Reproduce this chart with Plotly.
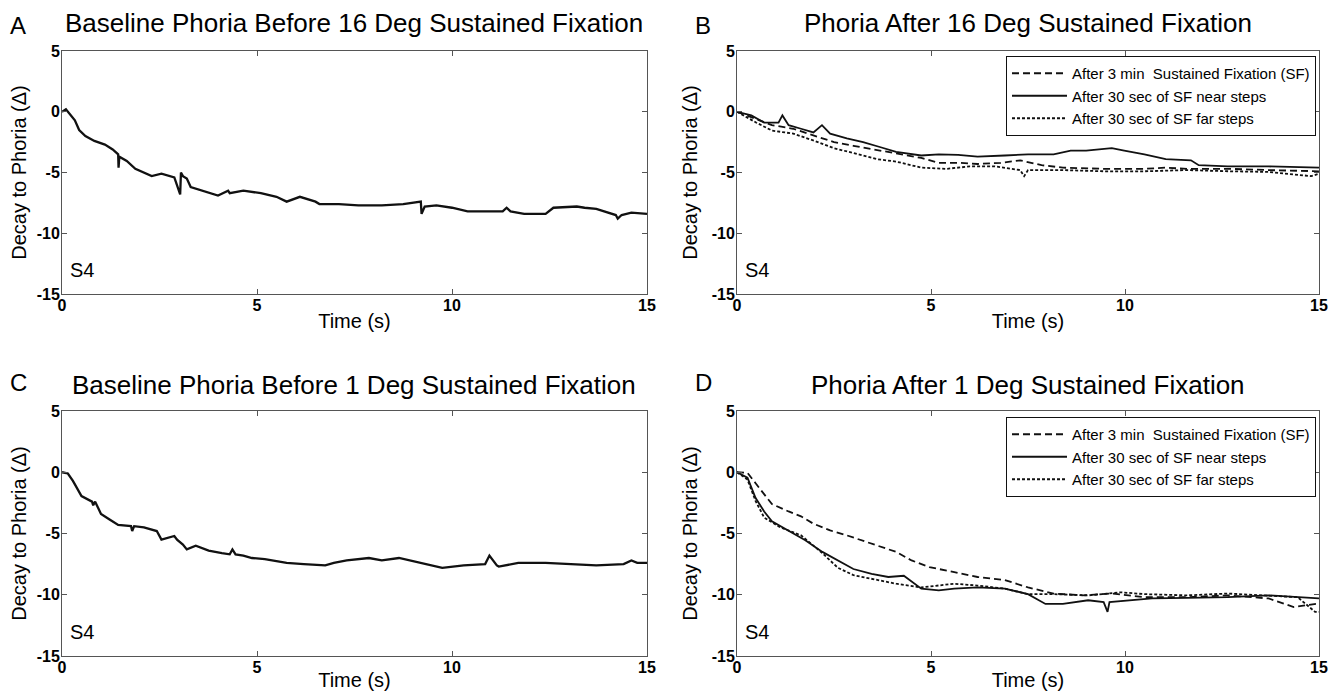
import plotly.graph_objects as go

# ---------------- data ----------------
A_t = [0, 0.1, 0.33, 0.44, 0.6, 0.83, 1.1, 1.3, 1.44, 1.45, 1.47, 1.66, 1.88, 2.1, 2.3,
       2.55, 2.88, 3.03, 3.05, 3.1, 3.2, 3.3, 3.5, 3.65, 4.0, 4.26, 4.3, 4.65, 5.1, 5.5,
       5.76, 6.1, 6.5, 6.6, 7.1, 7.6, 8.2, 8.75, 9.2, 9.22, 9.3, 9.6, 10.0, 10.4, 11.3,
       11.4, 11.5, 11.85, 12.4, 12.6, 13.2, 13.4, 13.7, 14.2, 14.25, 14.35, 14.6, 15.0]
A_v = [0, 0.2, -0.7, -1.5, -2.0, -2.4, -2.7, -3.1, -3.5, -4.6, -3.7, -4.05, -4.7, -5.0, -5.3,
       -5.1, -5.4, -6.8, -5.0, -5.3, -5.5, -6.2, -6.4, -6.6, -6.9, -6.5, -6.7, -6.5, -6.7, -7.0,
       -7.4, -7.0, -7.4, -7.6, -7.6, -7.7, -7.7, -7.6, -7.4, -8.4, -7.8, -7.7, -7.9, -8.2, -8.2,
       -7.9, -8.2, -8.4, -8.4, -7.9, -7.8, -7.9, -8.0, -8.5, -8.8, -8.5, -8.3, -8.4]

C_t = [0, 0.15, 0.28, 0.39, 0.5, 0.77, 0.8, 0.85, 1.0, 1.22, 1.44, 1.77, 1.8, 1.85, 2.1,
       2.43, 2.55, 2.88, 2.95, 3.1, 3.2, 3.43, 3.76, 4.1, 4.3, 4.37, 4.45, 4.65, 4.87, 5.2,
       5.76, 6.2, 6.75, 6.97, 7.3, 7.87, 8.2, 8.64, 9.2, 9.75, 10.3, 10.85, 10.96, 11.15, 11.2,
       11.7, 12.4, 12.95, 13.7, 14.4, 14.6, 14.75, 15.0]
C_v = [0, -0.1, -0.7, -1.3, -1.95, -2.4, -2.7, -2.4, -3.4, -3.85, -4.3, -4.4, -4.8, -4.4, -4.5,
       -4.8, -5.5, -5.2, -5.5, -5.9, -6.3, -6.0, -6.4, -6.6, -6.7, -6.3, -6.7, -6.8, -7.0, -7.1,
       -7.4, -7.5, -7.6, -7.4, -7.2, -7.0, -7.2, -7.0, -7.4, -7.8, -7.6, -7.5, -6.8, -7.6, -7.7,
       -7.4, -7.4, -7.5, -7.6, -7.5, -7.2, -7.4, -7.4]

B_3min_t = [0, 0.5, 0.9, 1.45, 2.0, 2.5, 3.0, 3.7, 4.3, 4.75, 5.2, 5.7, 6.2, 6.8, 7.3,
            7.85, 8.4, 9.45, 10.5, 11.05, 11.6, 12.7, 13.7, 15.0]
B_3min_v = [0, -0.6, -1.1, -1.4, -2.0, -2.5, -2.8, -3.2, -3.5, -3.8, -4.2, -4.2, -4.3, -4.2, -4.0,
            -4.4, -4.6, -4.7, -4.7, -4.6, -4.7, -4.7, -4.8, -4.9]
B_near_t = [0, 0.37, 0.7, 1.07, 1.17, 1.33, 1.65, 1.97, 2.19, 2.4, 2.83, 3.25, 3.68, 4.1, 4.75,
            5.2, 5.7, 6.2, 6.9, 7.5, 8.16, 8.6, 9.0, 9.66, 9.98, 10.5, 11.05, 11.7, 11.9, 12.65,
            13.7, 15.0]
B_near_v = [0, -0.3, -0.9, -0.9, -0.3, -1.1, -1.4, -1.7, -1.1, -1.8, -2.2, -2.5, -2.9, -3.3, -3.6,
            -3.5, -3.55, -3.7, -3.6, -3.5, -3.5, -3.2, -3.2, -3.0, -3.2, -3.5, -3.9, -4.0, -4.4, -4.5,
            -4.5, -4.6]
B_far_t = [0, 0.5, 0.9, 1.45, 2.0, 2.5, 3.0, 3.6, 4.1, 4.75, 5.4, 6.0, 6.65, 7.3, 7.4,
           7.5, 8.4, 9.45, 10.5, 11.6, 12.7, 13.7, 14.8, 15.0]
B_far_v = [0, -0.9, -1.55, -1.8, -2.4, -3.0, -3.4, -3.9, -4.1, -4.6, -4.7, -4.5, -4.5, -4.8, -5.3,
           -4.8, -4.8, -4.9, -4.9, -4.8, -4.9, -4.95, -5.3, -5.1]

D_3min_t = [0, 0.27, 0.48, 0.7, 0.9, 1.33, 1.65, 1.97, 2.4, 2.83, 3.25, 3.68, 4.1, 4.5, 4.96,
            5.6, 6.2, 6.9, 7.5, 8.16, 8.9, 9.66, 10.5, 11.6, 12.65, 13.7, 14.35, 15.0]
D_3min_v = [0, -0.05, -0.9, -1.8, -2.6, -3.2, -3.6, -4.2, -4.75, -5.15, -5.6, -6.1, -6.5, -7.2, -7.75,
            -8.15, -8.55, -8.8, -9.4, -9.9, -10.05, -9.9, -10.2, -10.2, -10.05, -10.3, -11.0, -10.7]
D_near_t = [0, 0.27, 0.48, 0.7, 0.9, 1.33, 1.76, 2.2, 2.6, 3.0, 3.47, 3.9, 4.3, 4.75, 5.2,
            5.6, 6.2, 6.9, 7.5, 7.95, 8.4, 9.05, 9.45, 9.55, 9.6, 10.1, 10.7, 11.6, 12.65, 13.7,
            14.45, 15.0]
D_near_v = [0, -0.45, -2.1, -3.2, -4.0, -4.75, -5.55, -6.5, -7.2, -7.9, -8.3, -8.55, -8.45, -9.5, -9.65,
            -9.5, -9.4, -9.5, -9.95, -10.75, -10.75, -10.45, -10.6, -11.4, -10.6, -10.45, -10.3, -10.25, -10.2, -10.05,
            -10.2, -10.3]
D_far_t = [0, 0.27, 0.48, 0.7, 1.12, 1.65, 2.2, 2.6, 3.0, 3.68, 4.1, 4.75, 5.6, 6.2, 6.9,
           7.5, 8.16, 9.05, 9.9, 10.5, 11.6, 12.65, 13.7, 14.45, 14.9, 15.0]
D_far_v = [0, -0.6, -2.35, -3.7, -4.5, -5.15, -6.6, -7.8, -8.4, -8.85, -9.1, -9.4, -9.1, -9.25, -9.5,
           -9.95, -9.95, -10.05, -9.8, -9.95, -10.05, -9.9, -10.05, -10.2, -11.4, -11.4]

series_names = ["After 3 min\u00a0\u00a0Sustained Fixation (SF)",
                "After 30 sec of SF near steps",
                "After 30 sec of SF far steps"]
panel_letters = ["A", "B", "C", "D"]
panel_titles = ["Baseline Phoria Before 16 Deg Sustained Fixation",
                "Phoria After 16 Deg Sustained Fixation",
                "Baseline Phoria Before 1 Deg Sustained Fixation",
                "Phoria After 1 Deg Sustained Fixation"]
x_ticks = [0, 5, 10, 15]
y_ticks = [-15, -10, -5, 0, 5]
x_label = "Time (s)"
y_label = "Decay to Phoria (\u0394)"
subject_label = "S4"

# ---------------- layout geometry (page pixels) ----------------
W, H = 1337, 699
OFF = 8                      # default body margin of the html page
FW, FH = W - 2 * OFF, H - 2 * OFF
FONT = "Liberation Sans, Arial, sans-serif"

def px(x):
    return (x - OFF) / FW

def py(y):
    return 1 - (y - OFF) / FH

def dom_x(a, b):
    return [px(a), px(b)]

def dom_y(top, bottom):
    return [py(bottom), py(top)]

xdom = {1: dom_x(62, 647), 2: dom_x(737, 1319), 3: dom_x(62, 647), 4: dom_x(737, 1319)}
ydom = {1: dom_y(51, 294), 2: dom_y(51, 294), 3: dom_y(411, 656), 4: dom_y(411, 656)}

fig = go.Figure()

BLACK = "#111111"
dash_styles = ["7px,4px", "solid", "3px,2px"]

def add(t, v, k, name=None, width=2.0, dash="solid", legend=None, show=False):
    fig.add_trace(go.Scatter(
        x=t, y=v, mode="lines", name=name,
        line=dict(color=BLACK, width=width, dash=dash),
        xaxis="x" if k == 1 else f"x{k}", yaxis="y" if k == 1 else f"y{k}",
        showlegend=show, legend=legend, hoverinfo="skip"))

add(A_t, A_v, 1, width=2.3)
add(C_t, C_v, 3, width=2.3)

for (t, v), nm, ds in zip([(B_3min_t, B_3min_v), (B_near_t, B_near_v), (B_far_t, B_far_v)],
                          series_names, dash_styles):
    add(t, v, 2, name=nm, width=1.8, dash=ds, legend="legend", show=True)
for (t, v), nm, ds in zip([(D_3min_t, D_3min_v), (D_near_t, D_near_v), (D_far_t, D_far_v)],
                          series_names, dash_styles):
    add(t, v, 4, name=nm, width=1.8, dash=ds, legend="legend2", show=True)

axis_common = dict(
    automargin=False,
    ticks="inside", ticklen=5, tickcolor="#555555",
    showline=True, linecolor="#555555", linewidth=1, mirror="ticks",
    showgrid=False, zeroline=False, fixedrange=True,
    tickfont=dict(family=FONT, size=16, color="black", weight="bold"),
)

layout = dict(
    template="none",
    width=FW, height=FH, margin=dict(l=0, r=0, t=0, b=0, autoexpand=False),
    paper_bgcolor="white", plot_bgcolor="white",
    font=dict(family=FONT, color="black"),
)
for k in range(1, 5):
    xs = "xaxis" if k == 1 else f"xaxis{k}"
    ys = "yaxis" if k == 1 else f"yaxis{k}"
    ya = "y" if k == 1 else f"y{k}"
    xa = "x" if k == 1 else f"x{k}"
    layout[xs] = dict(axis_common, domain=xdom[k], anchor=ya, range=[0, 15], tickvals=x_ticks,
                      ticktext=[str(v) for v in x_ticks], ticklabelstandoff=-3,
                      title=dict(text=x_label, font=dict(family=FONT, size=20), standoff=0))
    layout[ys] = dict(axis_common, domain=ydom[k], anchor=xa, range=[-15, 5], tickvals=y_ticks,
                      ticktext=[str(v) for v in y_ticks], ticklabelstandoff=-2,
                      title=dict(text=y_label, font=dict(family=FONT, size=20), standoff=8))

legend_common = dict(
    xanchor="right", yanchor="top",
    bgcolor="white", bordercolor="#111111", borderwidth=1,
    font=dict(family=FONT, size=15, color="black"),
    tracegroupgap=0, itemwidth=55,
)
layout["legend"] = dict(legend_common, x=px(1316), y=py(56))
layout["legend2"] = dict(legend_common, x=px(1316), y=py(417))

annotations = []
title_y = {1: 23, 2: 23, 3: 385, 4: 385}
letter_x = {1: 8, 2: 693, 3: 8, 4: 693}
letter_y = {1: 25, 2: 25, 3: 382, 4: 382}
for k in range(1, 5):
    annotations.append(dict(text=panel_titles[k - 1], xref="paper", yref="paper",
                            x=(xdom[k][0] + xdom[k][1]) / 2, y=py(title_y[k]),
                            xanchor="center", yanchor="middle", showarrow=False,
                            font=dict(family=FONT, size=26, color="black")))
    annotations.append(dict(text=panel_letters[k - 1], xref="paper", yref="paper",
                            x=px(letter_x[k]), y=py(letter_y[k]),
                            xanchor="left", yanchor="middle", showarrow=False,
                            font=dict(family=FONT, size=24, color="black")))
    xa = "x" if k == 1 else f"x{k}"
    ya = "y" if k == 1 else f"y{k}"
    annotations.append(dict(text=subject_label, xref=xa, yref=ya, x=0.15, y=-13,
                            xanchor="left", yanchor="middle", showarrow=False,
                            font=dict(family=FONT, size=20, color="black")))
layout["annotations"] = annotations

fig.update_layout(**layout)
fig.write_html("out.html")
